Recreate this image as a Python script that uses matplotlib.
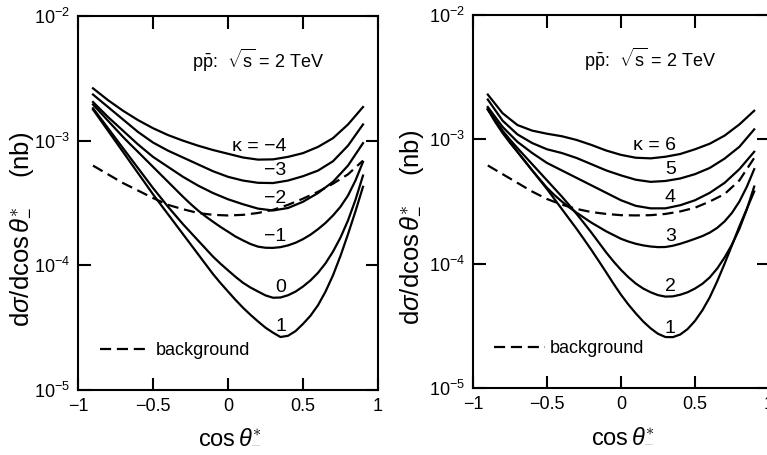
import matplotlib
matplotlib.use('Agg')
import matplotlib.pyplot as plt
from matplotlib.ticker import FixedLocator, NullLocator
import numpy as np

plt.rcParams['font.family'] = ['Liberation Sans', 'DejaVu Sans']
plt.rcParams['mathtext.fontset'] = 'custom'
plt.rcParams['mathtext.rm'] = 'Liberation Sans'
plt.rcParams['mathtext.it'] = 'Liberation Sans:italic'
plt.rcParams['mathtext.bf'] = 'Liberation Sans:bold'

# Data: log10 of dsigma/dcos(theta*_-) in nb
# coarse grid for the gentle curves, fine grid for the deep ones
cos_coarse = [-0.9, -0.8, -0.7, -0.6, -0.5, -0.4, -0.3, -0.2, -0.1, 0.0,
              0.1, 0.2, 0.3, 0.4, 0.5, 0.6, 0.7, 0.8, 0.9]
cos_fine = [-0.9, -0.85, -0.8, -0.75, -0.7, -0.65, -0.6, -0.55, -0.5, -0.45,
            -0.4, -0.35, -0.3, -0.25, -0.2, -0.15, -0.1, -0.05, 0.0, 0.05,
            0.1, 0.15, 0.2, 0.25, 0.3, 0.35, 0.4, 0.45, 0.5, 0.55,
            0.6, 0.65, 0.7, 0.75, 0.8, 0.85, 0.9]

# left panel: kappa = -4, -3, -2 (coarse) and -1, 0, 1 (fine)
left_km4 = [-2.58, -2.675, -2.76, -2.835, -2.90, -2.955, -3.00, -3.04, -3.075, -3.105,
            -3.135, -3.152, -3.15, -3.13, -3.10, -3.05, -2.98, -2.87, -2.73]
left_km3 = [-2.63, -2.73, -2.83, -2.93, -3.015, -3.08, -3.135, -3.19, -3.245, -3.29,
            -3.32, -3.338, -3.34, -3.32, -3.285, -3.24, -3.165, -3.04, -2.87]
left_km2 = [-2.69, -2.81, -2.92, -3.03, -3.13, -3.21, -3.29, -3.36, -3.42, -3.47,
            -3.51, -3.545, -3.56, -3.54, -3.49, -3.42, -3.33, -3.20, -3.02]
left_km1 = [-2.71, -2.775, -2.84, -2.905, -2.97, -3.031, -3.09, -3.15, -3.21, -3.27,
            -3.33, -3.39, -3.45, -3.507, -3.56, -3.607, -3.65, -3.692, -3.73, -3.769,
            -3.80, -3.829, -3.85, -3.859, -3.86, -3.854, -3.84, -3.819, -3.79, -3.754,
            -3.71, -3.66, -3.60, -3.53, -3.44, -3.319, -3.17]
left_k0 = [-2.74, -2.82, -2.90, -2.98, -3.06, -3.14, -3.22, -3.30, -3.38, -3.455,
           -3.53, -3.60, -3.67, -3.735, -3.80, -3.865, -3.93, -3.987, -4.04, -4.092,
           -4.14, -4.178, -4.21, -4.241, -4.26, -4.258, -4.24, -4.211, -4.17, -4.121,
           -4.06, -3.984, -3.89, -3.777, -3.64, -3.474, -3.28]
left_k1 = [-2.75, -2.835, -2.92, -3.005, -3.09, -3.175, -3.26, -3.345, -3.43, -3.51,
           -3.59, -3.67, -3.75, -3.83, -3.91, -3.99, -4.07, -4.142, -4.21, -4.277,
           -4.34, -4.397, -4.45, -4.50, -4.54, -4.575, -4.565, -4.528, -4.47, -4.404,
           -4.32, -4.211, -4.08, -3.924, -3.75, -3.566, -3.37]
left_bg = [-3.20, -3.27, -3.34, -3.40, -3.46, -3.515, -3.55, -3.58, -3.595, -3.60,
           -3.595, -3.58, -3.555, -3.515, -3.465, -3.41, -3.345, -3.27, -3.16]
left_labels = ['κ = −4', '−3', '−2', '−1', '0', '1']

# right panel: kappa = 6, 5, 4 (coarse) and 3, 2, 1 (fine)
right_k6 = [-2.64, -2.79, -2.885, -2.93, -2.955, -2.975, -3.005, -3.045, -3.09, -3.125,
            -3.148, -3.153, -3.14, -3.118, -3.08, -3.035, -2.97, -2.88, -2.77]
right_k5 = [-2.68, -2.85, -2.96, -3.03, -3.08, -3.11, -3.15, -3.20, -3.25, -3.29,
            -3.325, -3.342, -3.335, -3.315, -3.28, -3.23, -3.155, -3.06, -2.92]
right_k4 = [-2.74, -2.90, -3.02, -3.11, -3.19, -3.25, -3.31, -3.37, -3.43, -3.49,
            -3.535, -3.555, -3.555, -3.53, -3.49, -3.43, -3.35, -3.24, -3.10]
right_k3 = [-2.75, -2.85, -2.94, -3.023, -3.10, -3.175, -3.25, -3.32, -3.39, -3.448,
            -3.50, -3.547, -3.59, -3.63, -3.67, -3.705, -3.74, -3.77, -3.80, -3.822,
            -3.84, -3.853, -3.862, -3.867, -3.866, -3.856, -3.84, -3.821, -3.80, -3.778,
            -3.75, -3.712, -3.66, -3.591, -3.50, -3.382, -3.24]
right_k2 = [-2.76, -2.848, -2.93, -3.003, -3.07, -3.135, -3.20, -3.265, -3.33, -3.395,
            -3.46, -3.529, -3.60, -3.674, -3.75, -3.83, -3.91, -3.983, -4.05, -4.109,
            -4.16, -4.20, -4.23, -4.253, -4.265, -4.263, -4.25, -4.23, -4.20, -4.162,
            -4.11, -4.039, -3.95, -3.846, -3.72, -3.564, -3.38]
right_k1 = [-2.76, -2.86, -2.95, -3.028, -3.10, -3.175, -3.25, -3.325, -3.40, -3.48,
            -3.56, -3.64, -3.72, -3.804, -3.89, -3.979, -4.07, -4.162, -4.25, -4.329,
            -4.40, -4.465, -4.52, -4.564, -4.59, -4.591, -4.57, -4.526, -4.46, -4.375,
            -4.27, -4.142, -4.00, -3.851, -3.70, -3.559, -3.42]
right_bg = [-3.21, -3.28, -3.35, -3.42, -3.48, -3.525, -3.56, -3.585, -3.60, -3.61,
            -3.612, -3.61, -3.60, -3.58, -3.55, -3.50, -3.44, -3.33, -3.15]
right_labels = ['κ = 6', '5', '4', '3', '2', '1']

# label anchors (data coords, right-aligned)
left_label_x = 0.39
left_label_y = [8.95e-4, 5.8e-4, 3.45e-4, 1.7e-4, 6.7e-5, 3.25e-5]
right_label_x = 0.37
right_label_y = [9.0e-4, 5.7e-4, 3.4e-4, 1.66e-4, 6.6e-5, 3.0e-5]

x_ticks = [-1, -0.5, 0, 0.5, 1]
x_tick_labels = ['−1', '−0.5', '0', '0.5', '1']
y_ticks = [1e-5, 1e-4, 1e-3, 1e-2]

fig = plt.figure(figsize=(7.67, 4.55), dpi=100)
ax1 = fig.add_axes([78 / 767, 65 / 455, 300 / 767, 374 / 455])
ax2 = fig.add_axes([473 / 767, 67 / 455, 296 / 767, 373 / 455])


def draw_panel(ax, coarse, fine, bg, labels, lab_x, lab_y):
    for logs in coarse:
        ax.plot(cos_coarse, np.power(10.0, logs), color='black', lw=1.6)
    for logs in fine:
        ax.plot(cos_fine, np.power(10.0, logs), color='black', lw=1.6)
    bg_line, = ax.plot(cos_coarse, np.power(10.0, bg), color='black', lw=1.6,
                       linestyle=(0, (5, 2.6)))
    for txt, yy in zip(labels, lab_y):
        ax.text(lab_x, yy, txt, ha='right', va='center', fontsize=14)

    ax.set_yscale('log')
    ax.set_xlim(-1, 1)
    ax.set_ylim(1e-5, 1e-2)
    ax.set_xticks(x_ticks)
    ax.set_xticklabels(x_tick_labels)
    ax.yaxis.set_major_locator(FixedLocator(y_ticks))
    ax.yaxis.set_minor_locator(NullLocator())
    ax.tick_params(direction='in', length=9, width=1.5, labelsize=13,
                   top=True, right=True, pad=6)
    for sp in ax.spines.values():
        sp.set_linewidth(1.5)

    ax.text(0.6, 0.88, r'$\mathrm{p\bar{p}}$:  $\sqrt{\mathrm{s}}$ = 2 TeV',
            transform=ax.transAxes, ha='center', va='center', fontsize=13)
    ax.legend([bg_line], ['background'], loc='center left',
              bbox_to_anchor=(0.072, 0.105), frameon=False, fontsize=13,
              handlelength=2.8, handletextpad=0.3, borderpad=0, borderaxespad=0)

    ax.set_xlabel(r'cos$\,\theta^{\ast}_{-}$', fontsize=17)
    ax.set_ylabel(r'd$\sigma$/dcos$\,\theta^{\ast}_{-}$    (nb)', fontsize=18.5, va='center')


draw_panel(ax1, [left_km4, left_km3, left_km2], [left_km1, left_k0, left_k1],
           left_bg, left_labels, left_label_x, left_label_y)
draw_panel(ax2, [right_k6, right_k5, right_k4], [right_k3, right_k2, right_k1],
           right_bg, right_labels, right_label_x, right_label_y)

ax1.xaxis.set_label_coords(0.507, -0.093)
ax1.yaxis.set_label_coords(-0.19, 0.43)
ax2.xaxis.set_label_coords(0.507, -0.096)
ax2.yaxis.set_label_coords(-0.21, 0.43)

fig.savefig('out.png', dpi=100, facecolor='white')
